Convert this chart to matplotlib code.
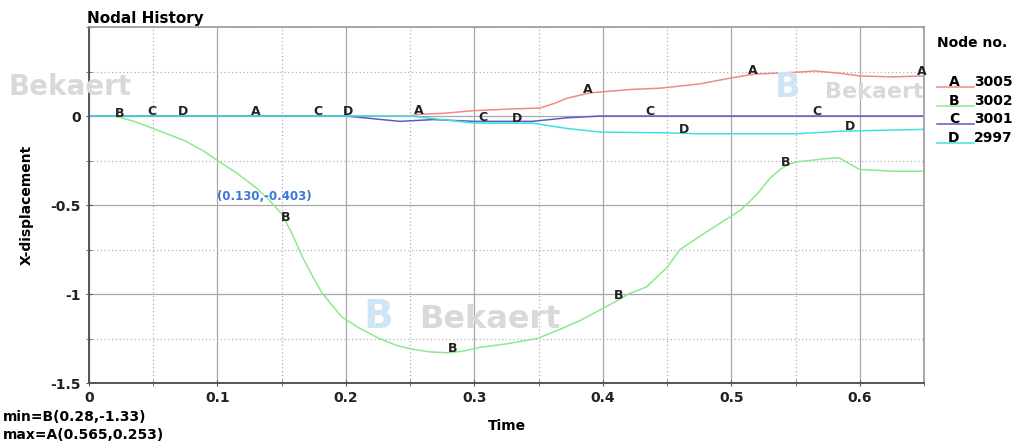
import numpy as np
import matplotlib
matplotlib.use('Agg')
from matplotlib import pyplot
from matplotlib.ticker import MultipleLocator

# Node A (3005)
time_a = [0.0, 0.25, 0.257, 0.276, 0.299, 0.33, 0.351, 0.362, 0.372, 0.39, 0.423, 0.444, 0.475,
          0.497, 0.517, 0.548, 0.565, 0.585, 0.6, 0.626, 0.65]
disp_a = [0.0, 0.0, 0.01, 0.015, 0.03, 0.04, 0.045, 0.07, 0.1, 0.13, 0.15, 0.156, 0.18,
          0.21, 0.235, 0.245, 0.253, 0.24, 0.225, 0.22, 0.225]

# Node B (3002)
time_b = [0.0, 0.02, 0.035, 0.051, 0.075, 0.09, 0.1, 0.115, 0.13, 0.14, 0.15, 0.158, 0.166,
          0.174, 0.181, 0.19, 0.197, 0.21, 0.226, 0.24, 0.252, 0.265, 0.28, 0.292, 0.304,
          0.325, 0.349, 0.366, 0.382, 0.395, 0.408, 0.42, 0.434, 0.45, 0.46, 0.483, 0.507,
          0.52, 0.53, 0.538, 0.545, 0.553, 0.561, 0.572, 0.584, 0.59, 0.6, 0.626, 0.65]
disp_b = [0.0, 0.0, -0.03, -0.073, -0.14, -0.2, -0.25, -0.32, -0.403, -0.47, -0.55, -0.66,
          -0.79, -0.9, -0.99, -1.07, -1.13, -1.19, -1.25, -1.29, -1.31, -1.325, -1.33, -1.32,
          -1.30, -1.28, -1.25, -1.2, -1.15, -1.1, -1.05, -1.0, -0.96, -0.85, -0.75, -0.64,
          -0.53, -0.44, -0.35, -0.3, -0.27, -0.255, -0.25, -0.24, -0.235, -0.26, -0.30,
          -0.31, -0.31]

# Node C (3001)
time_c = [0.0, 0.2, 0.242, 0.268, 0.3, 0.345, 0.372, 0.398, 0.5, 0.65]
disp_c = [0.0, 0.0, -0.03, -0.02, -0.03, -0.03, -0.01, 0.0, 0.0, 0.0]

# Node D (2997)
time_d = [0.0, 0.25, 0.3, 0.345, 0.372, 0.398, 0.45, 0.475, 0.55, 0.587, 0.65]
disp_d = [0.0, 0.0, -0.04, -0.04, -0.07, -0.09, -0.095, -0.1, -0.1, -0.085, -0.075]

node_letters = ['A', 'B', 'C', 'D']
node_ids = ['3005', '3002', '3001', '2997']
label_times = {
    'A': [0.13, 0.257, 0.388, 0.517, 0.648],
    'B': [0.024, 0.153, 0.283, 0.412, 0.542],
    'C': [0.049, 0.178, 0.307, 0.437, 0.567],
    'D': [0.073, 0.202, 0.333, 0.463, 0.592],
}
colors = ['#f08a8a', '#8fe88f', '#5a5ad0', '#40e0e0']

probe_t, probe_v = 0.130, -0.403


def main():
    figure = pyplot.figure(figsize=(10.17, 4.43), dpi=100)
    axes = figure.add_axes([0.0875, 0.1354, 0.8211, 0.8036])
    series = [(time_a, disp_a), (time_b, disp_b), (time_c, disp_c), (time_d, disp_d)]

    axes.set_xlim(0, 0.65)
    axes.set_ylim(-1.5, 0.5)
    axes.xaxis.set_minor_locator(MultipleLocator(0.05))
    axes.yaxis.set_minor_locator(MultipleLocator(0.25))
    axes.set_yticks([0, -0.5, -1, -1.5])
    axes.set_yticklabels(['0', '-0.5', '-1', '-1.5'])
    axes.set_xticks([0, 0.1, 0.2, 0.3, 0.4, 0.5, 0.6])
    axes.set_xticklabels(['0', '0.1', '0.2', '0.3', '0.4', '0.5', '0.6'])
    axes.grid(which='major', color='#a8a8a8', linewidth=0.9)
    axes.grid(which='minor', color='#b0b0b0', linewidth=0.9, linestyle=(0, (1, 2)))
    axes.set_axisbelow(True)
    axes.tick_params(which='both', direction='inout', length=5, labelsize=10, colors='#555555',
                     labelcolor='#222222')
    for lab in axes.get_xticklabels() + axes.get_yticklabels():
        lab.set_fontweight('bold')
    for side in ['left', 'bottom']:
        axes.spines[side].set_color('#555555')
        axes.spines[side].set_linewidth(1.4)
    for side in ['top', 'right']:
        axes.spines[side].set_color('#999999')
        axes.spines[side].set_linewidth(1.2)

    # watermarks
    figure.text(0.008, 0.785, 'Bekaert', fontsize=20, fontweight='bold', color='#d9d9d9', zorder=0.5)
    figure.text(0.357, 0.26, 'B', fontsize=28, fontweight='bold', color='#cfe5f5', zorder=0.5)
    figure.text(0.412, 0.26, 'Bekaert', fontsize=23, fontweight='bold', color='#d9d9d9', zorder=0.5)
    figure.text(0.762, 0.78, 'B', fontsize=24, fontweight='bold', color='#cfe5f5', zorder=0.5)
    figure.text(0.811, 0.778, 'Bekaert', fontsize=16, fontweight='bold', color='#d9d9d9', zorder=0.5)

    for (t, v), letter, color in zip(series, node_letters, colors):
        axes.plot(t, v, color=color, linewidth=1.1)
        for lt in label_times[letter]:
            axes.annotate(letter, (lt, np.interp(lt, t, v)), xytext=(0, 3),
                          textcoords='offset points', ha='center', va='center',
                          fontsize=9, fontweight='bold', color='#222222', clip_on=False)

    axes.annotate(f'({probe_t:.3f},{probe_v:.3f})', (probe_t, probe_v), xytext=(0.1, -0.45),
                  textcoords='data', ha='left', va='center', fontsize=8.5,
                  fontweight='bold', color='#3a78d8')

    axes.set_title('Nodal History', loc='left', fontsize=11, fontweight='bold', pad=3, x=-0.002)
    axes.set_ylabel('X-displacement', fontsize=10, fontweight='bold', labelpad=12)
    axes.set_xlabel('Time', fontsize=10, fontweight='bold', labelpad=10)

    figure.text(0.003, 0.05, f'min=B({time_b[22]},{disp_b[22]})', fontsize=10, fontweight='bold')
    figure.text(0.003, 0.008, f'max=A({time_a[16]},{disp_a[16]})', fontsize=10, fontweight='bold')

    # legend
    figure.text(0.921, 0.895, 'Node no.', fontsize=10, fontweight='bold')
    for i, (letter, nid, color) in enumerate(zip(node_letters, node_ids, colors)):
        y = 0.815 - i * 0.042
        figure.text(0.938, y, letter, fontsize=10, fontweight='bold', ha='center', va='center')
        figure.text(0.958, y, nid, fontsize=10, fontweight='bold', va='center')
        figure.add_artist(pyplot.Line2D([0.921, 0.958], [y - 0.012, y - 0.012], color=color,
                                        linewidth=1.1, transform=figure.transFigure))

    figure.savefig('out.png', dpi=100)


if __name__ == '__main__':
    main()
